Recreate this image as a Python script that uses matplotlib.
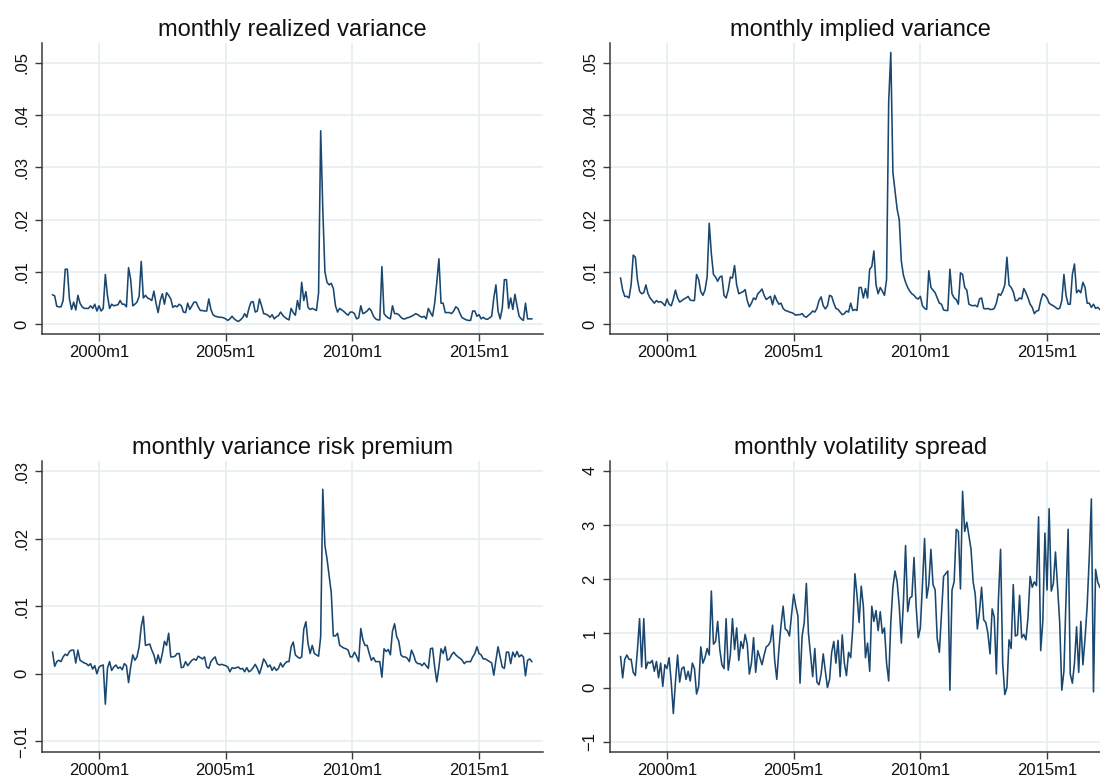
import numpy as np
import pandas as pd
import matplotlib

matplotlib.use("Agg")
import matplotlib.pyplot as plt

plt.rcParams["font.family"] = ["Liberation Sans", "DejaVu Sans"]

# monthly sample 1998m3 .. 2017m2
months = pd.period_range("1998-03", "2017-02", freq="M")

# monthly realized variance
realized_var = [
    0.0056, 0.0054, 0.0034, 0.0033, 0.0033, 0.0045, 0.0105, 0.0105, 0.0048, 0.0028,  # 1998
    0.0042, 0.0027, 0.0055, 0.0040, 0.0033, 0.0030, 0.0030, 0.0030, 0.0035, 0.0030, 0.0038, 0.0025,  # 1999
    0.0035, 0.0025, 0.0030, 0.0095, 0.0055, 0.0030, 0.0038, 0.0035, 0.0036, 0.0037, 0.0045, 0.0038,  # 2000
    0.0038, 0.0033, 0.0108, 0.0085, 0.0035, 0.0038, 0.0042, 0.0053, 0.0120, 0.0050, 0.0055, 0.0050,  # 2001
    0.0048, 0.0045, 0.0063, 0.0040, 0.0022, 0.0045, 0.0058, 0.0038, 0.0060, 0.0055, 0.0048, 0.0032,  # 2002
    0.0035, 0.0033, 0.0038, 0.0035, 0.0023, 0.0022, 0.0040, 0.0028, 0.0035, 0.0042, 0.0042, 0.0033,  # 2003
    0.0026, 0.0026, 0.0025, 0.0025, 0.0048, 0.0028, 0.0018, 0.0015, 0.0014, 0.0013, 0.0013, 0.0012,  # 2004
    0.0010, 0.0007, 0.0010, 0.0015, 0.0010, 0.0007, 0.0005, 0.0008, 0.0012, 0.0020, 0.0013, 0.0030,  # 2005
    0.0042, 0.0043, 0.0023, 0.0025, 0.0048, 0.0035, 0.0020, 0.0019, 0.0017, 0.0013, 0.0018, 0.0010,  # 2006
    0.0014, 0.0016, 0.0023, 0.0017, 0.0013, 0.0010, 0.0008, 0.0030, 0.0022, 0.0017, 0.0045, 0.0028,  # 2007
    0.0080, 0.0045, 0.0062, 0.0032, 0.0028, 0.0030, 0.0028, 0.0026, 0.0060, 0.0370, 0.0220, 0.0100,  # 2008
    0.0080, 0.0075, 0.0078, 0.0068, 0.0035, 0.0023, 0.0030, 0.0027, 0.0024, 0.0020, 0.0017, 0.0023,  # 2009
    0.0023, 0.0020, 0.0010, 0.0012, 0.0035, 0.0020, 0.0022, 0.0025, 0.0030, 0.0025, 0.0015, 0.0010,  # 2010
    0.0008, 0.0008, 0.0110, 0.0020, 0.0015, 0.0012, 0.0010, 0.0035, 0.0020, 0.0020, 0.0018, 0.0013,  # 2011
    0.0010, 0.0010, 0.0012, 0.0013, 0.0015, 0.0017, 0.0020, 0.0018, 0.0015, 0.0013, 0.0015, 0.0010,  # 2012
    0.0030, 0.0022, 0.0015, 0.0040, 0.0080, 0.0125, 0.0040, 0.0040, 0.0022, 0.0022, 0.0022, 0.0020,  # 2013
    0.0025, 0.0033, 0.0030, 0.0020, 0.0012, 0.0010, 0.0008, 0.0007, 0.0007, 0.0025, 0.0025, 0.0015,  # 2014
    0.0018, 0.0010, 0.0013, 0.0010, 0.0009, 0.0012, 0.0015, 0.0050, 0.0075, 0.0025, 0.0010, 0.0030,  # 2015
    0.0085, 0.0085, 0.0030, 0.0050, 0.0028, 0.0057, 0.0035, 0.0015, 0.0010, 0.0007, 0.0040, 0.0010,  # 2016
    0.0010, 0.0010,  # 2017
]

# monthly implied variance
implied_var = [
    0.0088, 0.0065, 0.0053, 0.0053, 0.0050, 0.0075, 0.0132, 0.0128, 0.0085, 0.0063,  # 1998
    0.0058, 0.0060, 0.0075, 0.0058, 0.0050, 0.0045, 0.0040, 0.0045, 0.0042, 0.0043, 0.0040, 0.0035,  # 1999
    0.0048, 0.0038, 0.0035, 0.0048, 0.0065, 0.0050, 0.0042, 0.0045, 0.0048, 0.0050, 0.0053, 0.0046,  # 2000
    0.0045, 0.0045, 0.0095, 0.0085, 0.0062, 0.0055, 0.0065, 0.0090, 0.0193, 0.0135, 0.0095, 0.0090,  # 2001
    0.0082, 0.0090, 0.0092, 0.0055, 0.0050, 0.0065, 0.0090, 0.0088, 0.0112, 0.0075, 0.0058, 0.0060,  # 2002
    0.0062, 0.0066, 0.0045, 0.0033, 0.0040, 0.0050, 0.0047, 0.0058, 0.0062, 0.0067, 0.0055, 0.0047,  # 2003
    0.0050, 0.0053, 0.0037, 0.0055, 0.0045, 0.0038, 0.0040, 0.0030, 0.0026, 0.0025, 0.0023, 0.0022,  # 2004
    0.0020, 0.0017, 0.0018, 0.0018, 0.0020, 0.0015, 0.0013, 0.0017, 0.0020, 0.0025, 0.0023, 0.0030,  # 2005
    0.0045, 0.0052, 0.0035, 0.0029, 0.0035, 0.0055, 0.0053, 0.0040, 0.0030, 0.0028, 0.0023, 0.0018,  # 2006
    0.0020, 0.0025, 0.0023, 0.0040, 0.0026, 0.0028, 0.0026, 0.0070, 0.0070, 0.0050, 0.0068, 0.0050,  # 2007
    0.0105, 0.0110, 0.0140, 0.0075, 0.0058, 0.0070, 0.0063, 0.0055, 0.0085, 0.0425, 0.0520, 0.0290,  # 2008
    0.0255, 0.0220, 0.0200, 0.0120, 0.0093, 0.0080, 0.0070, 0.0063, 0.0058, 0.0055, 0.0050, 0.0048,  # 2009
    0.0053, 0.0035, 0.0030, 0.0028, 0.0102, 0.0070, 0.0065, 0.0060, 0.0050, 0.0040, 0.0038, 0.0027,  # 2010
    0.0026, 0.0026, 0.0105, 0.0058, 0.0050, 0.0047, 0.0038, 0.0098, 0.0095, 0.0070, 0.0065, 0.0038,  # 2011
    0.0036, 0.0035, 0.0036, 0.0033, 0.0048, 0.0050, 0.0030, 0.0029, 0.0030, 0.0028, 0.0028, 0.0030,  # 2012
    0.0040, 0.0058, 0.0055, 0.0063, 0.0075, 0.0128, 0.0075, 0.0070, 0.0062, 0.0045, 0.0045, 0.0050,  # 2013
    0.0048, 0.0068, 0.0060, 0.0050, 0.0038, 0.0032, 0.0020, 0.0025, 0.0026, 0.0045, 0.0058, 0.0055,  # 2014
    0.0050, 0.0040, 0.0037, 0.0035, 0.0032, 0.0029, 0.0030, 0.0045, 0.0095, 0.0055, 0.0038, 0.0038,  # 2015
    0.0095, 0.0115, 0.0060, 0.0065, 0.0060, 0.0080, 0.0070, 0.0040, 0.0040, 0.0032, 0.0038, 0.0030,  # 2016
    0.0032, 0.0028,  # 2017
]

# monthly variance risk premium
var_premium = [
    0.0032, 0.0011, 0.0018, 0.0020, 0.0018, 0.0025, 0.0029, 0.0027, 0.0033, 0.0035,  # 1998
    0.0035, 0.0016, 0.0035, 0.0020, 0.0018, 0.0016, 0.0015, 0.0012, 0.0015, 0.0007, 0.0012, 0.0000,  # 1999
    0.0010, 0.0012, 0.0013, -0.0045, 0.0008, 0.0018, 0.0005, 0.0010, 0.0013, 0.0008, 0.0010, 0.0006,  # 2000
    0.0015, 0.0012, -0.0013, 0.0010, 0.0028, 0.0020, 0.0025, 0.0040, 0.0070, 0.0085, 0.0042, 0.0043,  # 2001
    0.0044, 0.0035, 0.0028, 0.0015, 0.0028, 0.0016, 0.0030, 0.0048, 0.0042, 0.0060, 0.0025, 0.0025,  # 2002
    0.0026, 0.0030, 0.0030, 0.0009, 0.0010, 0.0018, 0.0012, 0.0016, 0.0020, 0.0022, 0.0020, 0.0026,  # 2003
    0.0024, 0.0022, 0.0025, 0.0010, 0.0008, 0.0018, 0.0022, 0.0025, 0.0015, 0.0013, 0.0014, 0.0013,  # 2004
    0.0012, 0.0010, 0.0003, 0.0009, 0.0008, 0.0009, 0.0010, 0.0007, 0.0008, 0.0003, 0.0009, 0.0003,  # 2005
    0.0005, 0.0009, 0.0014, 0.0008, 0.0000, 0.0010, 0.0022, 0.0017, 0.0010, 0.0013, 0.0005, 0.0010,  # 2006
    0.0005, 0.0008, 0.0016, 0.0010, 0.0015, 0.0018, 0.0018, 0.0040, 0.0047, 0.0028, 0.0025, 0.0023,  # 2007
    0.0025, 0.0066, 0.0077, 0.0045, 0.0030, 0.0042, 0.0030, 0.0028, 0.0026, 0.0055, 0.0273, 0.0190,  # 2008
    0.0170, 0.0145, 0.0120, 0.0056, 0.0056, 0.0060, 0.0042, 0.0040, 0.0038, 0.0037, 0.0035, 0.0025,  # 2009
    0.0025, 0.0032, 0.0026, 0.0018, 0.0067, 0.0050, 0.0042, 0.0042, 0.0030, 0.0020, 0.0024, 0.0018,  # 2010
    0.0018, 0.0018, -0.0005, 0.0037, 0.0033, 0.0036, 0.0028, 0.0063, 0.0074, 0.0055, 0.0048, 0.0028,  # 2011
    0.0025, 0.0025, 0.0023, 0.0018, 0.0035, 0.0028, 0.0018, 0.0015, 0.0015, 0.0012, 0.0016, 0.0012,  # 2012
    0.0008, 0.0037, 0.0038, 0.0010, -0.0012, 0.0010, 0.0037, 0.0030, 0.0040, 0.0020, 0.0022, 0.0028,  # 2013
    0.0032, 0.0028, 0.0025, 0.0023, 0.0020, 0.0015, 0.0018, 0.0018, 0.0018, 0.0025, 0.0030, 0.0040,  # 2014
    0.0030, 0.0028, 0.0022, 0.0022, 0.0020, 0.0018, 0.0016, -0.0002, 0.0020, 0.0040, 0.0025, 0.0010,  # 2015
    0.0008, 0.0032, 0.0032, 0.0015, 0.0032, 0.0025, 0.0033, 0.0025, 0.0028, 0.0025, -0.0003, 0.0020,  # 2016
    0.0022, 0.0018,  # 2017
]

# monthly volatility spread
vol_spread = [
    0.57, 0.18, 0.52, 0.60, 0.52, 0.52, 0.28, 0.22, 0.70, 1.27,  # 1998
    0.38, 1.27, 0.35, 0.47, 0.45, 0.50, 0.30, 0.48, 0.18, 0.45, 0.02, 0.42,  # 1999
    0.35, 0.55, 0.10, -0.48, 0.10, 0.60, 0.10, 0.35, 0.38, 0.15, 0.30, 0.12,  # 2000
    0.45, 0.35, -0.12, 0.02, 0.75, 0.45, 0.55, 0.72, 0.60, 1.78, 0.80, 0.85,  # 2001
    1.22, 0.70, 0.42, 0.35, 1.27, 0.32, 0.60, 1.27, 0.70, 1.10, 0.50, 0.85,  # 2002
    0.72, 0.98, 0.80, 0.25, 0.45, 0.92, 0.28, 0.68, 0.55, 0.42, 0.60, 0.75,  # 2003
    0.78, 0.85, 1.15, 0.50, 0.15, 0.70, 1.15, 1.50, 1.08, 1.05, 0.95, 1.35,  # 2004
    1.72, 1.50, 1.32, 0.08, 0.95, 1.20, 1.92, 1.00, 0.60, 0.20, 0.72, 0.10,  # 2005
    0.05, 0.25, 0.62, 0.30, 0.00, 0.15, 0.65, 0.85, 0.45, 0.87, 0.20, 0.97,  # 2006
    0.45, 0.22, 0.65, 0.55, 1.10, 2.10, 1.70, 1.20, 1.87, 1.50, 0.55, 0.82,  # 2007
    0.30, 1.50, 1.22, 1.42, 1.05, 1.40, 1.00, 1.10, 0.45, 0.12, 1.20, 1.85,  # 2008
    2.15, 1.95, 1.50, 0.82, 1.60, 2.62, 1.40, 1.65, 1.68, 2.40, 1.50, 0.92,  # 2009
    1.10, 1.90, 2.75, 1.65, 1.90, 2.55, 1.90, 1.80, 0.90, 0.65, 1.35, 2.05,  # 2010
    2.10, 2.15, -0.05, 1.80, 1.95, 2.92, 2.88, 1.82, 3.62, 2.88, 3.05, 2.80,  # 2011
    2.55, 1.95, 1.72, 1.08, 1.40, 1.85, 1.25, 1.20, 1.00, 0.62, 1.45, 1.30,  # 2012
    0.25, 1.65, 2.55, 0.45, -0.13, 0.00, 0.88, 0.72, 1.90, 0.95, 0.97, 1.70,  # 2013
    0.92, 0.98, 0.88, 1.30, 2.05, 1.85, 1.95, 1.88, 3.15, 0.68, 1.22, 2.85,  # 2014
    1.80, 3.30, 1.78, 1.92, 2.50, 1.85, 1.20, -0.05, 0.30, 1.65, 2.92, 0.25,  # 2015
    0.08, 0.45, 1.12, 0.28, 1.22, 0.42, 0.90, 1.50, 2.40, 3.48, -0.08, 2.18,  # 2016
    1.95, 1.85,  # 2017
]

xtick_labels = ["2000m1", "2005m1", "2010m1", "2015m1"]

LINE = "#1a476f"
GRID = "#e4edf0"
AXIS = "#3a3a3a"
W, H = 1100, 776
PW, PH = 501, 291


def panel(x0, ytop):
    return [x0 / W, 1 - (ytop + PH) / H, PW / W, PH / H]


def draw(ax, y, title, yticks, ylabels, ylim):
    x = months.asi8
    ax.plot(x, y, color=LINE, linewidth=1.15, zorder=3)
    xt = [pd.Period(s.replace("m", "-"), freq="M").ordinal for s in xtick_labels]
    ax.set_xticks(xt)
    ax.set_xticklabels(xtick_labels)
    base = xt[0]
    ax.set_xlim(base - 27.0, base + 210.3)
    ax.set_yticks(yticks)
    ax.set_yticklabels(ylabels, rotation=90, va="center")
    ax.set_ylim(*ylim)
    ax.grid(True, color=GRID, linewidth=1.2, zorder=0)
    ax.set_axisbelow(True)
    for side in ("top", "right"):
        ax.spines[side].set_visible(False)
    for side in ("left", "bottom"):
        ax.spines[side].set_color(AXIS)
        ax.spines[side].set_linewidth(1.1)
    ax.tick_params(axis="both", length=5, width=1.0, color=AXIS,
                   labelsize=12, labelcolor="#111111")
    ax.tick_params(axis="x", pad=3)
    ax.tick_params(axis="y", pad=4)
    ax.set_title(title, fontsize=17, pad=5, color="#111111")


fig = plt.figure(figsize=(11, 7.76), dpi=100)

var_ticks = [0, 0.01, 0.02, 0.03, 0.04, 0.05]
var_labels = ["0", ".01", ".02", ".03", ".04", ".05"]

ax = fig.add_axes(panel(42, 43))
draw(ax, realized_var, "monthly realized variance", var_ticks, var_labels, (-0.0019, 0.0538))

ax = fig.add_axes(panel(610, 43))
draw(ax, implied_var, "monthly implied variance", var_ticks, var_labels, (-0.0019, 0.0538))

ax = fig.add_axes(panel(42, 461))
draw(ax, var_premium, "monthly variance risk premium",
     [-0.01, 0, 0.01, 0.02, 0.03], ["\u2212.01", "0", ".01", ".02", ".03"],
     (-0.01157, 0.03148))

ax = fig.add_axes(panel(610, 461))
draw(ax, vol_spread, "monthly volatility spread",
     [-1, 0, 1, 2, 3, 4], ["\u22121", "0", "1", "2", "3", "4"],
     (-1.19, 4.18))

fig.savefig("out.png", dpi=100)
